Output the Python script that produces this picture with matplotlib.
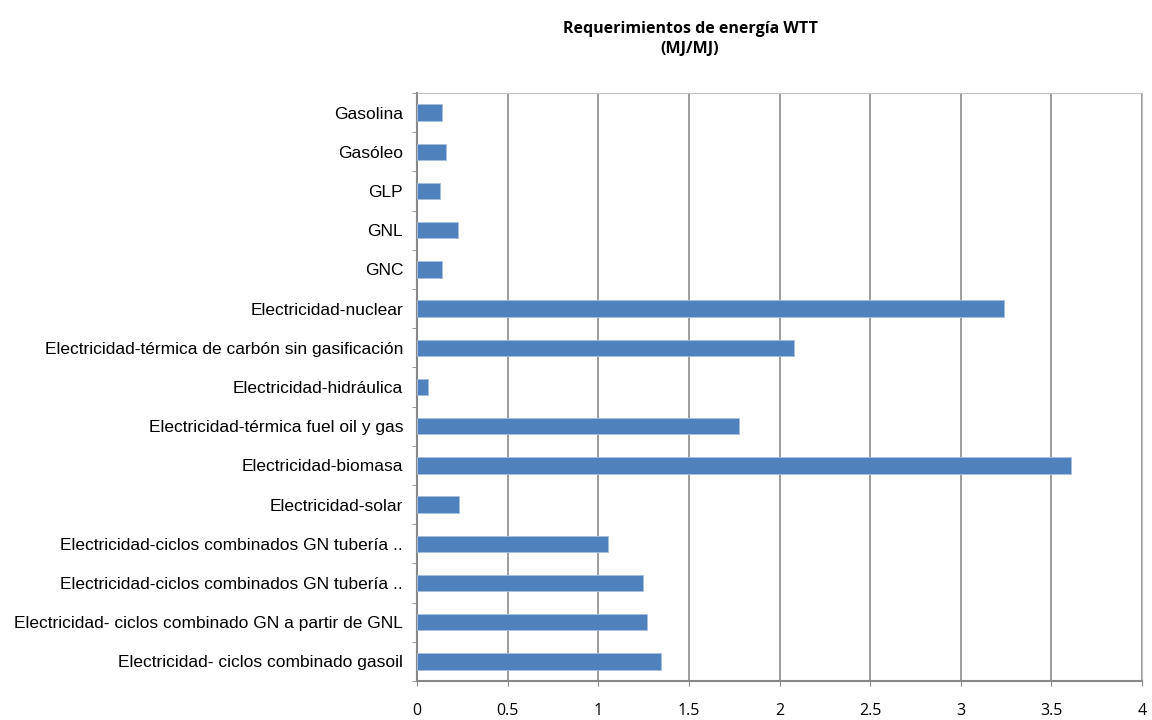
import matplotlib.pyplot as plt
import numpy as np

categorias = [
    "Gasolina",
    "Gasóleo",
    "GLP",
    "GNL",
    "GNC",
    "Electricidad-nuclear",
    "Electricidad-térmica de carbón sin gasificación",
    "Electricidad-hidráulica",
    "Electricidad-térmica fuel oil y gas",
    "Electricidad-biomasa",
    "Electricidad-solar",
    "Electricidad-ciclos combinados GN tubería ..",
    "Electricidad-ciclos combinados GN tubería ..",
    "Electricidad- ciclos combinado GN a partir de GNL",
    "Electricidad- ciclos combinado gasoil",
]
valores = [0.138, 0.158, 0.125, 0.224, 0.138, 3.24, 2.08, 0.059, 1.776,
           3.61, 0.23, 1.055, 1.248, 1.267, 1.348]
xticks = [0, 0.5, 1, 1.5, 2, 2.5, 3, 3.5, 4]
xtick_labels = ["0", "0.5", "1", "1.5", "2", "2.5", "3", "3.5", "4"]

plt.rcParams['font.family'] = ['Liberation Sans', 'DejaVu Sans']

fig = plt.figure(figsize=(11.52, 7.2), dpi=100)
ax = fig.add_axes([0.362, 0.0542, 0.6293, 0.8166])

y = np.arange(len(categorias))
ax.barh(y, valores, height=0.42, color='#4f81bd', edgecolor='#a7c0e0', linewidth=0.6, zorder=3)

ax.set_xlim(0, 4)
ax.set_ylim(len(categorias) - 0.5, -0.5)
ax.set_xticks(xticks)
ax.set_xticklabels(xtick_labels, fontsize=11.5, family=['Open Sans', 'DejaVu Sans'])
ax.set_yticks(y)
ax.set_yticklabels(categorias, fontsize=12.5)
ax.set_yticks(np.arange(len(categorias) + 1) - 0.5, minor=True)
ax.tick_params(axis='y', which='major', length=0, pad=10)
ax.tick_params(axis='y', which='minor', length=3.5, color='#888888', direction='out')
ax.tick_params(axis='x', length=3.5, color='#888888', pad=12)

ax.grid(axis='x', color='#8c8c8c', linewidth=1.2, zorder=0)
ax.spines['left'].set_color('#888888')
ax.spines['left'].set_linewidth(1.5)
ax.spines['bottom'].set_color('#888888')
ax.spines['bottom'].set_linewidth(1.5)
ax.spines['top'].set_color('#c0c0c0')
ax.spines['right'].set_color('#c0c0c0')

fig.text(0.599, 0.946, "Requerimientos de energía WTT\n(MJ/MJ)", ha='center', va='center',
         fontsize=11.5, fontweight='bold', family=['Open Sans', 'DejaVu Sans'], linespacing=1.35)

fig.savefig("out.png", dpi=100)
